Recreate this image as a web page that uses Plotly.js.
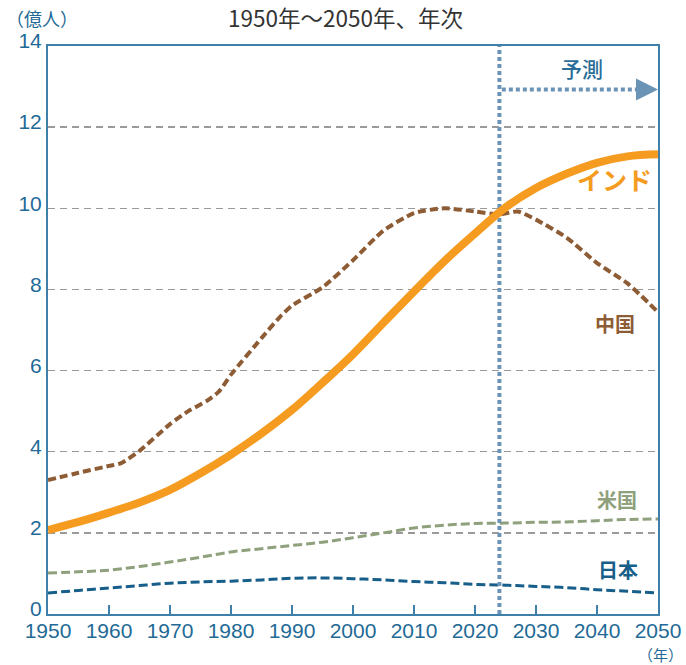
<!DOCTYPE html>
<html>
<head>
<meta charset="utf-8">
<script src="https://cdn.plot.ly/plotly-3.0.1.min.js"></script>
<style>html,body{margin:0;padding:0;background:#fff;}#chart{width:686px;height:665px;}</style>
</head>
<body>
<div id="chart"></div>
<script>
// ---- data (億人) ----
const years = [1950,1955,1960,1965,1970,1975,1980,1985,1990,1995,2000,2005,2010,2015,2020,2025,2030,2035,2040,2045,2050];
const india = [2.07,2.27,2.50,2.75,3.06,3.47,3.93,4.45,5.03,5.70,6.40,7.18,7.95,8.70,9.38,10.02,10.50,10.85,11.12,11.28,11.33];
const usa   = [1.01,1.04,1.08,1.17,1.28,1.40,1.53,1.61,1.69,1.77,1.88,2.00,2.12,2.19,2.23,2.24,2.26,2.27,2.30,2.33,2.34];
const japan = [0.52,0.58,0.64,0.70,0.76,0.79,0.81,0.84,0.88,0.89,0.87,0.84,0.80,0.77,0.73,0.71,0.68,0.65,0.60,0.56,0.52];
const chinaYears = [1950,1955,1960,1962,1965,1970,1973,1976,1978,1980,1985,1988,1990,1995,2000,2005,2010,2015,2020,2024,2027,2030,2035,2040,2045,2050];
const china      = [3.30,3.48,3.65,3.72,4.02,4.68,5.00,5.25,5.48,5.90,6.80,7.32,7.60,8.05,8.72,9.45,9.88,10.00,9.92,9.85,9.92,9.72,9.28,8.65,8.15,7.44];
const forecastStart = 2024;
const xTicks = [1950,1960,1970,1980,1990,2000,2010,2020,2030,2040,2050];
const yTicks = [0,2,4,6,8,10,12,14];

const axisColor = '#3f80aa';
const labelColor = '#1f6a96';
const jp = '"Noto Sans CJK JP", "Noto Sans", sans-serif';
const num = '"Liberation Sans", Arial, sans-serif';

const traces = [
  {x: years, y: japan, mode: 'lines', line: {color: '#175f8a', width: 3, dash: '9px,4px', shape: 'spline'}, hoverinfo: 'skip'},
  {x: years, y: usa, mode: 'lines', line: {color: '#8fa07d', width: 3, dash: '9px,4px', shape: 'spline'}, hoverinfo: 'skip'},
  {x: chinaYears, y: china, mode: 'lines', line: {color: '#8e5c34', width: 4, dash: '8px,4px', shape: 'spline', smoothing: 0.6}, hoverinfo: 'skip'},
  {x: [forecastStart, forecastStart], y: [0, 14], mode: 'lines', line: {color: '#6a93b6', width: 4, dash: '4px,3px'}, hoverinfo: 'skip', cliponaxis: false},
  {x: years, y: india, mode: 'lines', line: {color: '#f59b20', width: 8, shape: 'spline'}, hoverinfo: 'skip'}
];

const layout = {
  width: 686, height: 665,
  margin: {l: 48, r: 28, t: 46, b: 51},
  paper_bgcolor: '#fff', plot_bgcolor: '#fff',
  showlegend: false,
  xaxis: {
    range: [1950, 2050], tickvals: xTicks, ticktext: xTicks.map(String),
    showgrid: false, zeroline: false,
    showline: true, linecolor: axisColor, linewidth: 2, mirror: true,
    ticks: 'inside', ticklen: 9, tickwidth: 1.5, tickcolor: axisColor,
    ticklabelstandoff: -3,
    tickfont: {family: num, size: 21, color: labelColor}
  },
  yaxis: {
    range: [0, 14], tickvals: yTicks, ticktext: yTicks.map(String),
    showgrid: true, gridcolor: '#9a9a9a', gridwidth: 1.3, griddash: '7px,5px',
    zeroline: false,
    showline: true, linecolor: axisColor, linewidth: 2, mirror: true,
    ticks: '', ticklabelshift: -5,
    tickfont: {family: num, size: 21, color: labelColor}
  },
  shapes: [
    {type: 'line', xref: 'x', yref: 'y', x0: forecastStart + 0.4, x1: 2048.5, y0: 12.93, y1: 12.93,
     line: {color: '#6a93b6', width: 4, dash: '4px,3px'}, layer: 'above'}
  ],
  annotations: [
    {xref: 'paper', yref: 'paper', x: 0.488, y: 1.0, yshift: 29, text: '1950年～2050年、年次', showarrow: false,
     font: {family: jp, size: 22.5, color: '#333'}, xanchor: 'center', yanchor: 'middle'},
    {xref: 'paper', yref: 'paper', x: 0, y: 1.0, xshift: -44, yshift: 28, text: '（億人）', showarrow: false,
     font: {family: jp, size: 18, color: labelColor}, xanchor: 'left', yanchor: 'middle'},
    {xref: 'paper', yref: 'paper', x: 1, y: 0, xshift: 2, yshift: -40, text: '（年）', showarrow: false,
     font: {family: jp, size: 15, color: labelColor}, xanchor: 'center', yanchor: 'middle'},
    {x: 2037.5, y: 13.45, text: '予測', showarrow: false, font: {family: jp, size: 21, color: '#2a6d96', weight: 500}},
    {x: 2050, y: 12.93, ax: -15, ay: 0, text: '', showarrow: true, arrowhead: 2, arrowsize: 1.1, arrowwidth: 4, arrowcolor: '#6a93b6', standoff: 0},
    {x: 2042.8, y: 10.72, text: '<b>インド</b>', showarrow: false, font: {family: jp, size: 25, color: '#f59b20'}},
    {x: 2043, y: 7.17, text: '<b>中国</b>', showarrow: false, font: {family: jp, size: 20, color: '#8e5c34'}},
    {x: 2043.3, y: 2.83, text: '<b>米国</b>', showarrow: false, font: {family: jp, size: 20, color: '#8fa07d'}},
    {x: 2043.5, y: 1.1, text: '<b>日本</b>', showarrow: false, font: {family: jp, size: 20, color: '#175f8a'}}
  ]
};

Plotly.newPlot('chart', traces, layout, {staticPlot: true, displayModeBar: false});
</script>
</body>
</html>
